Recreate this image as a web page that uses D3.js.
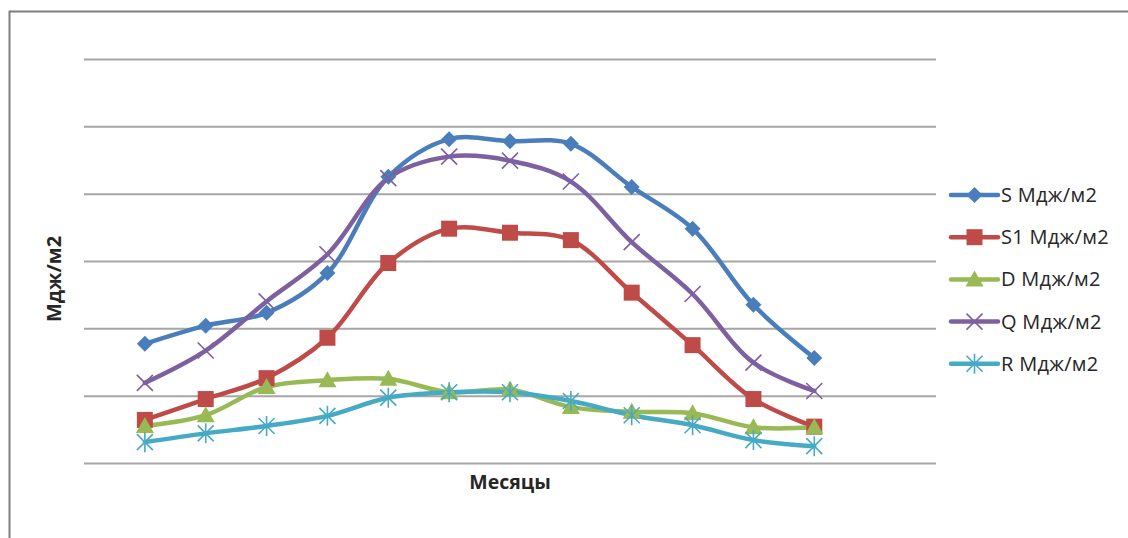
<!DOCTYPE html>
<html>
<head>
<meta charset="utf-8">
<script src="https://cdn.jsdelivr.net/npm/d3@7"></script>
<style>
  html, body { margin: 0; padding: 0; background: #fff; }
  svg { display: block; font-family: "Open Sans", "Liberation Sans", sans-serif; }
</style>
</head>
<body>
<svg id="chart" width="1128" height="538"></svg>
<script>
// Monthly radiation balance components, MJ/m2
const months = [1, 2, 3, 4, 5, 6, 7, 8, 9, 10, 11, 12];
const sValues  = [177, 204, 223, 282, 425, 481, 478, 474, 410, 348, 235, 156];
const s1Values = [64, 95, 126, 186, 297, 348, 342, 331, 253, 175, 95, 54];
const dValues  = [55, 71, 113, 123, 125, 105, 109, 83, 76, 74, 53, 53];
const qValues  = [119, 167, 240, 310, 423, 455, 449, 418, 328, 251, 149, 107];
const rValues  = [31, 44, 55, 70, 97, 105, 105, 92, 71, 56, 34, 25];
const seriesNames = ["S Мдж/м2", "S1 Мдж/м2", "D Мдж/м2", "Q Мдж/м2", "R Мдж/м2"];
const yTicks = [0, 100, 200, 300, 400, 500, 600];

const series = [
  { name: seriesNames[0], values: sValues,  color: "#4A7EBB", marker: "diamond" },
  { name: seriesNames[1], values: s1Values, color: "#BE4B48", marker: "square" },
  { name: seriesNames[2], values: dValues,  color: "#98B954", marker: "triangle" },
  { name: seriesNames[3], values: qValues,  color: "#7D60A0", marker: "x" },
  { name: seriesNames[4], values: rValues,  color: "#46AAC5", marker: "star" }
];

const svg = d3.select("#chart");

// chart frame
svg.append("rect")
  .attr("x", 9.5).attr("y", 11.5)
  .attr("width", 1140).attr("height", 560)
  .attr("fill", "none").attr("stroke", "#7f7f7f").attr("stroke-width", 2);

const plot = { left: 84, right: 936, top: 59, bottom: 463 };

const x = d3.scaleLinear().domain([0, 14]).range([plot.left, plot.right]);
const y = d3.scaleLinear().domain([0, 600]).range([plot.bottom, plot.top]);

// horizontal gridlines
const yAxis = d3.axisLeft(y).tickValues(yTicks)
  .tickSize(-(plot.right - plot.left)).tickFormat("");
const gy = svg.append("g").attr("transform", `translate(${plot.left},0)`).call(yAxis);
gy.select(".domain").remove();
gy.selectAll(".tick line").attr("stroke", "#a6a6a6").attr("stroke-width", 2);

// axis titles
svg.append("text")
  .attr("x", 510).attr("y", 489)
  .attr("text-anchor", "middle")
  .attr("font-size", 19.5).attr("font-weight", "bold").attr("fill", "#262626")
  .text("Месяцы");

svg.append("text")
  .attr("transform", "translate(61,279) rotate(-90)")
  .attr("text-anchor", "middle")
  .attr("font-size", 20).attr("font-weight", "bold").attr("fill", "#262626")
  .text("Мдж/м2");

const line = d3.line()
  .x((d, i) => x(months[i]))
  .y(d => y(d))
  .curve(d3.curveCatmullRom.alpha(0.5));

function drawMarker(g, type, color) {
  switch (type) {
    case "diamond":
      g.append("path").attr("d", "M0,-8L8,0L0,8L-8,0Z").attr("fill", color);
      break;
    case "square":
      g.append("rect").attr("x", -8).attr("y", -8).attr("width", 16).attr("height", 16).attr("fill", color);
      break;
    case "triangle":
      g.append("path").attr("d", "M0,-9L9,7L-9,7Z").attr("fill", color);
      break;
    case "x":
      g.append("path").attr("d", "M-8,-8L8,8M-8,8L8,-8")
        .attr("stroke", color).attr("stroke-width", 1.6).attr("fill", "none");
      break;
    case "star":
      g.append("path").attr("d", "M-8,-8L8,8M-8,8L8,-8M0,-10L0,10")
        .attr("stroke", color).attr("stroke-width", 1.6).attr("fill", "none");
      break;
  }
}

series.forEach(s => {
  svg.append("path")
    .datum(s.values)
    .attr("d", line)
    .attr("fill", "none")
    .attr("stroke", s.color)
    .attr("stroke-width", 4.5)
    .attr("stroke-linejoin", "round")
    .attr("stroke-linecap", "round");
});

series.forEach(s => {
  s.values.forEach((v, i) => {
    const g = svg.append("g").attr("transform", `translate(${x(months[i])},${y(v)})`);
    drawMarker(g, s.marker, s.color);
  });
});

// legend
const legend = svg.append("g");
series.forEach((s, i) => {
  const ly = 195 + i * 42.2;
  const g = legend.append("g").attr("transform", `translate(0,${ly})`);
  g.append("line").attr("x1", 951).attr("x2", 998).attr("y1", 0).attr("y2", 0)
    .attr("stroke", s.color).attr("stroke-width", 4.5).attr("stroke-linecap", "round");
  const m = g.append("g").attr("transform", "translate(974.5,0)");
  drawMarker(m, s.marker, s.color);
  g.append("text").attr("x", 1001).attr("y", 7)
    .attr("font-size", 20).attr("letter-spacing", 0.3).attr("fill", "#262626")
    .text(s.name);
});
</script>
</body>
</html>
